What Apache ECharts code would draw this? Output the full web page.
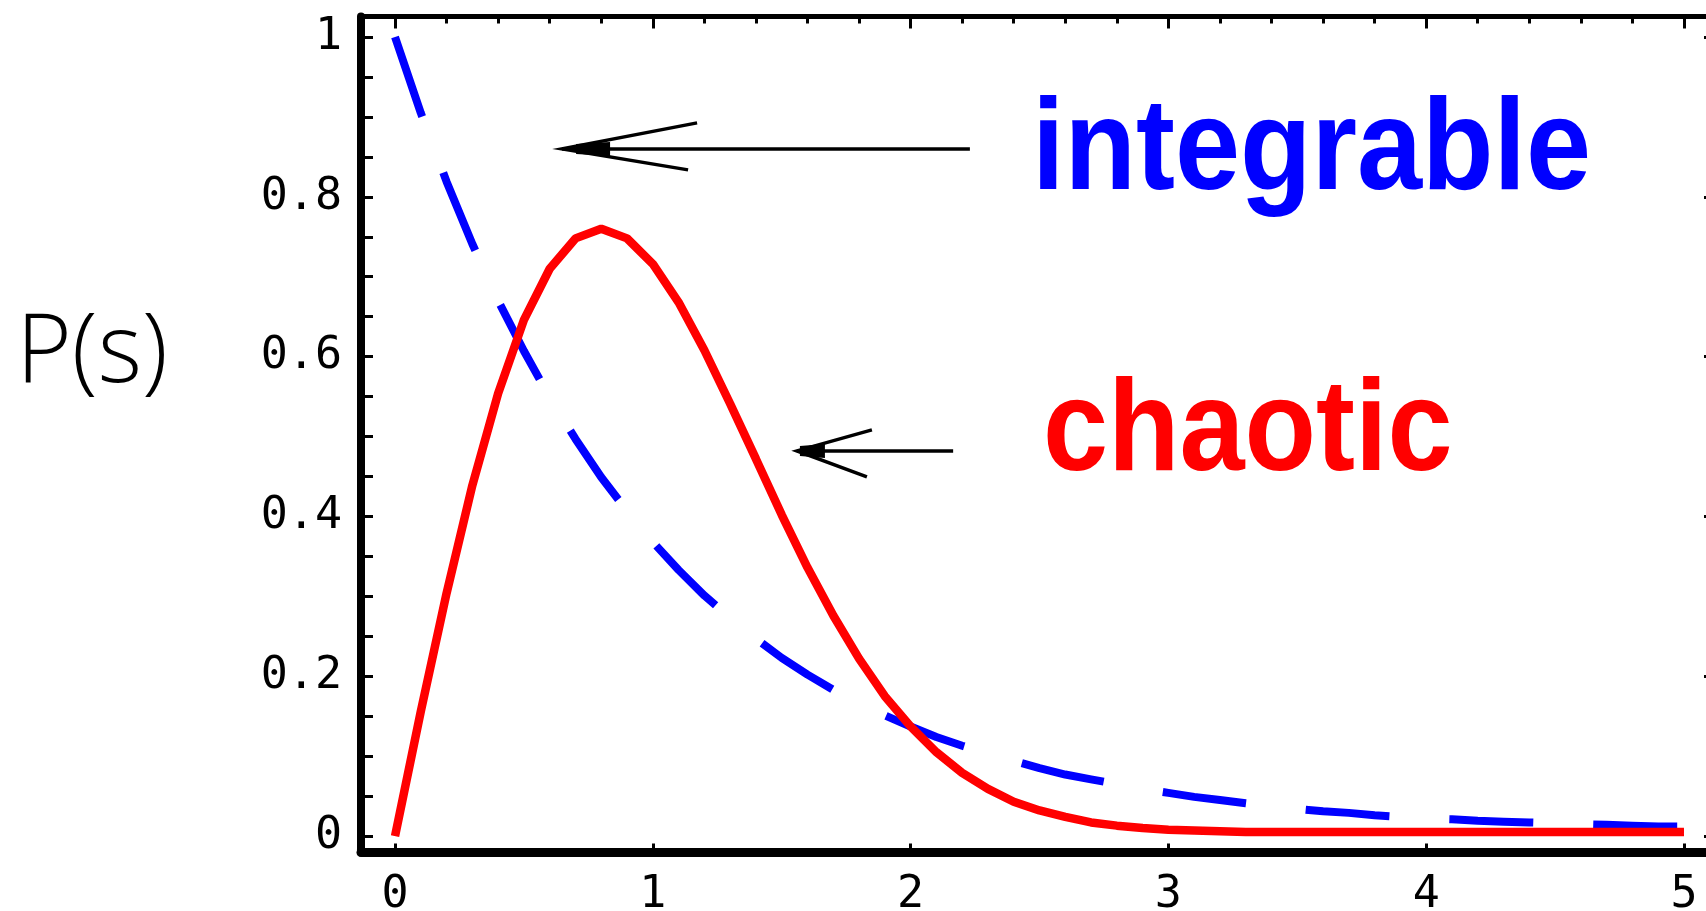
<!DOCTYPE html>
<html>
<head>
<meta charset="utf-8">
<title>P(s)</title>
<script src="https://cdn.jsdelivr.net/npm/echarts@6/dist/echarts.min.js"></script>
<style>
  html, body { margin: 0; padding: 0; background: #fff; }
  #chart { width: 1706px; height: 911px; }
</style>
</head>
<body>
<div id="chart"></div>
<script>
// level spacing s
const spacing = [
  0, 0.1, 0.2, 0.3, 0.4, 0.5, 0.6, 0.7, 0.8, 0.9,
  1.0, 1.1, 1.2, 1.3, 1.4, 1.5, 1.6, 1.7, 1.8, 1.9,
  2.0, 2.1, 2.2, 2.3, 2.4, 2.5, 2.6, 2.7, 2.8, 2.9,
  3.0, 3.1, 3.2, 3.3, 3.4, 3.5, 3.6, 3.7, 3.8, 3.9,
  4.0, 4.1, 4.2, 4.3, 4.4, 4.5, 4.6, 4.7, 4.8, 4.9, 5.0
];
// blue dashed curve
const integrable = [
  1.000, 0.905, 0.819, 0.741, 0.670, 0.607, 0.549, 0.497, 0.449, 0.407,
  0.368, 0.333, 0.301, 0.273, 0.247, 0.223, 0.202, 0.183, 0.166, 0.151,
  0.137, 0.124, 0.113, 0.103, 0.094, 0.085, 0.077, 0.071, 0.065, 0.059,
  0.054, 0.049, 0.045, 0.041, 0.037, 0.034, 0.031, 0.029, 0.026, 0.024,
  0.022, 0.021, 0.019, 0.018, 0.017, 0.016, 0.015, 0.014, 0.013, 0.012, 0.012
];
// red solid curve
const chaotic = [
  0.000, 0.156, 0.304, 0.439, 0.554, 0.646, 0.710, 0.748, 0.760, 0.748,
  0.716, 0.668, 0.608, 0.541, 0.472, 0.402, 0.336, 0.276, 0.222, 0.175,
  0.137, 0.105, 0.079, 0.059, 0.043, 0.032, 0.024, 0.017, 0.013, 0.010,
  0.008, 0.007, 0.006, 0.005, 0.005, 0.005, 0.005, 0.005, 0.005, 0.005,
  0.005, 0.005, 0.005, 0.005, 0.005, 0.005, 0.005, 0.005, 0.005, 0.005, 0.005
];
const xTicks = [0, 1, 2, 3, 4, 5];
const xMinorTicks = [
  0, 0.2, 0.4, 0.6, 0.8, 1, 1.2, 1.4, 1.6, 1.8, 2, 2.2, 2.4, 2.6, 2.8,
  3, 3.2, 3.4, 3.6, 3.8, 4, 4.2, 4.4, 4.6, 4.8, 5
];
const yLabels = [0, 0.2, 0.4, 0.6, 0.8, 1];
const yTicks = [
  0, 0.05, 0.1, 0.15, 0.2, 0.25, 0.3, 0.35, 0.4, 0.45,
  0.5, 0.55, 0.6, 0.65, 0.7, 0.75, 0.8, 0.85, 0.9, 0.95, 1
];

// frame has some padding around the data (Mathematica style)
const XMIN = -0.132, XMAX = 5.132;
const YMIN = -0.0206, YMAX = 1.0257;

// arrows in data units, head offsets in px relative to the tip
const arrows = [
  { tail: [2.23, 0.86], tip: [0.648, 0.86], up: [135, -26], down: [126, 21], blob: [14, 48, 7] },
  { tail: [2.165, 0.482], tip: [1.559, 0.482], up: [75, -21], down: [70, 26], blob: [3, 28, 7] }
];

const pairs = (ys) => spacing.map((s, i) => [s, ys[i]]);

const monoLabel = {
  fontFamily: 'DejaVu Sans Mono',
  fontSize: 45,
  color: '#000'
};

const chart = echarts.init(document.getElementById('chart'));

const option = {
  backgroundColor: '#fff',
  animation: false,
  grid: {
    left: 361,
    right: -12,
    top: 16.5,
    bottom: 58.5,
    outerBoundsMode: 'none'
  },
  xAxis: [
    {
      type: 'value', position: 'bottom', min: XMIN, max: XMAX,
      axisLine: { onZero: false, lineStyle: { color: '#000', width: 9 } },
      axisTick: { inside: true, length: 9, customValues: xTicks, lineStyle: { color: '#000', width: 3 } },
      axisLabel: Object.assign({ customValues: xTicks, margin: 20 }, monoLabel),
      splitLine: { show: false }
    },
    {
      type: 'value', position: 'top', min: XMIN, max: XMAX,
      axisLine: { onZero: false, lineStyle: { color: '#000', width: 5 } },
      axisTick: { inside: true, length: 12, customValues: xTicks, lineStyle: { color: '#000', width: 3 } },
      axisLabel: { show: false },
      splitLine: { show: false }
    },
    {
      type: 'value', position: 'top', min: XMIN, max: XMAX,
      axisLine: { show: false, onZero: false },
      axisTick: { inside: true, length: 7, customValues: xMinorTicks, lineStyle: { color: '#000', width: 3 } },
      axisLabel: { show: false },
      splitLine: { show: false }
    }
  ],
  yAxis: [
    {
      type: 'value', position: 'left', min: YMIN, max: YMAX,
      axisLine: { show: true, onZero: false, lineStyle: { color: '#000', width: 8 } },
      axisTick: { show: true, inside: true, length: 12, customValues: yTicks, lineStyle: { color: '#000', width: 3 } },
      axisLabel: Object.assign({
        customValues: yLabels,
        margin: 19,
        formatter: (v) => (v === 0 || v === 1) ? String(v) : v.toFixed(1)
      }, monoLabel),
      splitLine: { show: false }
    },
    {
      type: 'value', position: 'right', min: YMIN, max: YMAX,
      axisLine: { show: true, onZero: false, lineStyle: { color: '#000', width: 5 } },
      axisTick: { show: true, inside: true, length: 14, customValues: yLabels, lineStyle: { color: '#000', width: 3 } },
      axisLabel: { show: false },
      splitLine: { show: false }
    }
  ],
  series: [
    {
      name: 'integrable',
      type: 'line',
      data: pairs(integrable),
      showSymbol: false,
      lineStyle: { color: '#0000ff', width: 8, type: [84, 60], cap: 'butt' }
    },
    {
      name: 'chaotic',
      type: 'line',
      data: pairs(chaotic),
      showSymbol: false,
      lineStyle: { color: '#ff0000', width: 8.5 }
    }
  ]
};

chart.setOption(option);

const toPx = (p) => chart.convertToPixel({ xAxisIndex: 0, yAxisIndex: 0 }, p);

const graphics = [
  {
    type: 'text', x: 1032, y: 153, scaleX: 0.9,
    style: {
      text: 'integrable', fill: '#0000ff',
      fontFamily: 'Liberation Sans', fontWeight: 'bold', fontSize: 130,
      textAlign: 'left', textVerticalAlign: 'middle'
    }
  },
  {
    type: 'text', x: 1043, y: 434, scaleX: 0.9,
    style: {
      text: 'chaotic', fill: '#ff0000',
      fontFamily: 'Liberation Sans', fontWeight: 'bold', fontSize: 130,
      textAlign: 'left', textVerticalAlign: 'middle'
    }
  },
  {
    type: 'text', x: 92, y: 355,
    style: {
      text: 'P(s)', fill: '#000',
      fontFamily: 'Open Sans', fontWeight: 300, fontSize: 95,
      textAlign: 'center', textVerticalAlign: 'middle'
    }
  }
];

arrows.forEach((a) => {
  const tail = toPx(a.tail);
  const tip = toPx(a.tip);
  graphics.push({
    type: 'line',
    shape: { x1: tail[0], y1: tail[1], x2: tip[0], y2: tip[1] },
    style: { stroke: '#000', lineWidth: 3.5 }
  });
  graphics.push({
    type: 'polyline',
    shape: { points: [[tip[0] + a.up[0], tip[1] + a.up[1]], tip, [tip[0] + a.down[0], tip[1] + a.down[1]]] },
    style: { stroke: '#000', lineWidth: 3.5, fill: null }
  });
  graphics.push({
    type: 'polygon',
    shape: { points: [
      [tip[0] + a.blob[0], tip[1] - a.blob[2] + 2],
      [tip[0] + a.blob[1], tip[1] - a.blob[2]],
      [tip[0] + a.blob[1], tip[1] + a.blob[2]],
      [tip[0] + a.blob[0], tip[1] + a.blob[2] - 2]
    ] },
    style: { fill: '#000' }
  });
});

chart.setOption({ graphic: graphics });
</script>
</body>
</html>
